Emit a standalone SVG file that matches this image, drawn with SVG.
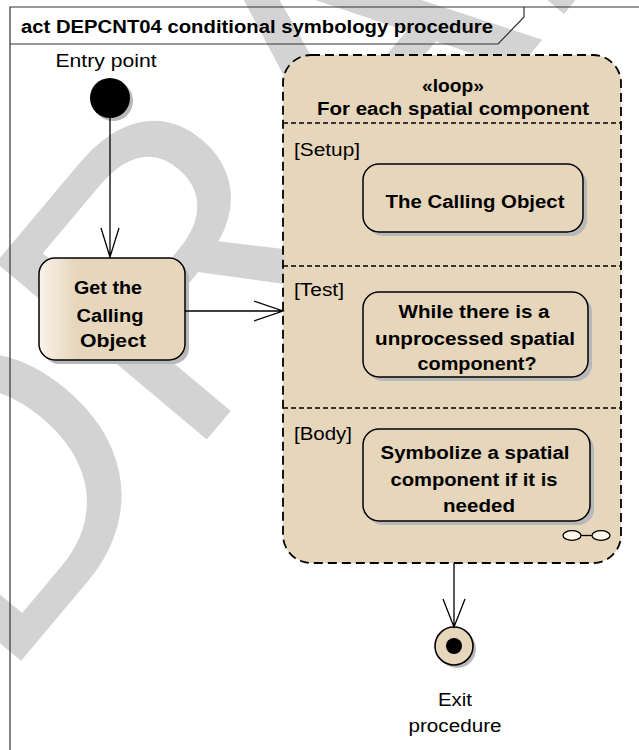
<svg xmlns="http://www.w3.org/2000/svg" width="639" height="750" viewBox="0 0 639 750">
<defs>
<style>
.lbl{font-family:"Liberation Sans",Arial,sans-serif;font-size:18px;fill:#000}
.b{font-weight:bold}
.mid{text-anchor:middle}
.node{fill:#e6d6bc;stroke:#000;stroke-width:1.5}
.shadow{fill:#b8b8b8}
.conn{stroke:#000;stroke-width:1.3;fill:none}
.sep{stroke:#000;stroke-width:1.3;stroke-dasharray:5 3;fill:none}
</style>
<linearGradient id="g1" x1="0" y1="0" x2="1" y2="0">
<stop offset="0" stop-color="#fbf4ea"/>
<stop offset="0.25" stop-color="#e6d6bc"/>
<stop offset="1" stop-color="#e6d6bc"/>
</linearGradient>
</defs>
<rect width="639" height="750" fill="#fff"/>
<g id="watermark">
<text transform="translate(0,686) rotate(-50)" font-family="Liberation Sans,Arial,sans-serif" font-size="400" fill="#d3d3d3">DRAFT</text>
</g>
<g id="frame">
<path d="M10,750 V7 H639" fill="none" stroke="#333" stroke-width="1.2"/>
<path d="M10,44 H498 L524,17 V7" fill="none" stroke="#333" stroke-width="1.2"/>
<text class="lbl b" x="21" y="33" textLength="472" lengthAdjust="spacingAndGlyphs">act DEPCNT04 conditional symbology procedure</text>
</g>
<g id="entry">
<circle cx="113" cy="101" r="20" class="shadow"/>
<circle cx="110" cy="98" r="20" fill="#000"/>
<text class="lbl mid" x="106" y="67" textLength="101" lengthAdjust="spacingAndGlyphs">Entry point</text>
</g>
<g id="getCalling">
<rect x="43" y="262" width="146" height="102" rx="16" class="shadow"/>
<rect x="39" y="258" width="146" height="102" rx="16" fill="url(#g1)" stroke="#000" stroke-width="1.5"/>
<text class="lbl b mid" x="108" y="294" textLength="68" lengthAdjust="spacingAndGlyphs">Get the</text>
<text class="lbl b mid" x="110" y="322" textLength="67" lengthAdjust="spacingAndGlyphs">Calling</text>
<text class="lbl b mid" x="113" y="347" textLength="66" lengthAdjust="spacingAndGlyphs">Object</text>
</g>
<g id="loop">
<rect x="283" y="55" width="338" height="508" rx="28" fill="#e6d6bc" stroke="#000" stroke-width="1.8" stroke-dasharray="9 5"/>
<text class="lbl b mid" x="453" y="92" textLength="62" lengthAdjust="spacingAndGlyphs">«loop»</text>
<text class="lbl b mid" x="453" y="115" textLength="272" lengthAdjust="spacingAndGlyphs">For each spatial component</text>
<line x1="283" y1="123" x2="621" y2="123" class="sep"/>
<line x1="283" y1="266" x2="621" y2="266" class="sep"/>
<line x1="283" y1="408" x2="621" y2="408" class="sep"/>
<text class="lbl" x="294" y="156" textLength="66" lengthAdjust="spacingAndGlyphs">[Setup]</text>
<text class="lbl" x="294" y="296" textLength="50" lengthAdjust="spacingAndGlyphs">[Test]</text>
<text class="lbl" x="294" y="440" textLength="58" lengthAdjust="spacingAndGlyphs">[Body]</text>
<g id="rake">
<line x1="581" y1="535.5" x2="592" y2="535.5" stroke="#000" stroke-width="1.3"/>
<ellipse cx="572" cy="535.5" rx="9" ry="4.8" fill="#fdf6e8" stroke="#000" stroke-width="1.3"/>
<ellipse cx="601" cy="535.5" rx="9" ry="4.8" fill="#fdf6e8" stroke="#000" stroke-width="1.3"/>
</g>
</g>
<g id="setupNode">
<rect x="367" y="168" width="220" height="68" rx="16" class="shadow"/>
<rect x="363" y="164" width="220" height="68" rx="16" class="node"/>
<text class="lbl b mid" x="475" y="208" textLength="179" lengthAdjust="spacingAndGlyphs">The Calling Object</text>
</g>
<g id="testNode">
<rect x="367" y="296" width="225" height="85" rx="16" class="shadow"/>
<rect x="363" y="292" width="225" height="85" rx="16" class="node"/>
<text class="lbl b mid" x="474" y="318" textLength="151" lengthAdjust="spacingAndGlyphs">While there is a</text>
<text class="lbl b mid" x="475" y="345" textLength="200" lengthAdjust="spacingAndGlyphs">unprocessed spatial</text>
<text class="lbl b mid" x="477" y="370" textLength="119" lengthAdjust="spacingAndGlyphs">component?</text>
</g>
<g id="bodyNode">
<rect x="367" y="433" width="227" height="92" rx="16" class="shadow"/>
<rect x="363" y="429" width="227" height="92" rx="16" class="node"/>
<text class="lbl b mid" x="475" y="459" textLength="189" lengthAdjust="spacingAndGlyphs">Symbolize a spatial</text>
<text class="lbl b mid" x="474" y="486" textLength="167" lengthAdjust="spacingAndGlyphs">component if it is</text>
<text class="lbl b mid" x="479" y="512" textLength="72" lengthAdjust="spacingAndGlyphs">needed</text>
</g>
<g id="exit">
<circle cx="457" cy="649" r="19" class="shadow"/>
<circle cx="454" cy="646" r="19" fill="#e6d6bc" stroke="#000" stroke-width="1.6"/>
<circle cx="454" cy="646" r="8" fill="#000"/>
<text class="lbl mid" x="455" y="706" textLength="34" lengthAdjust="spacingAndGlyphs">Exit</text>
<text class="lbl mid" x="455" y="732" textLength="93" lengthAdjust="spacingAndGlyphs">procedure</text>
</g>
<g id="connectors">
<path class="conn" d="M110,118 V257 M101,228 L110,257 L119,228"/>
<path class="conn" d="M185,311 H283 M254,301 L283,311 L254,321"/>
<path class="conn" d="M454,563 V627 M443,599 L454,627 L465,599"/>
</g>
</svg>
